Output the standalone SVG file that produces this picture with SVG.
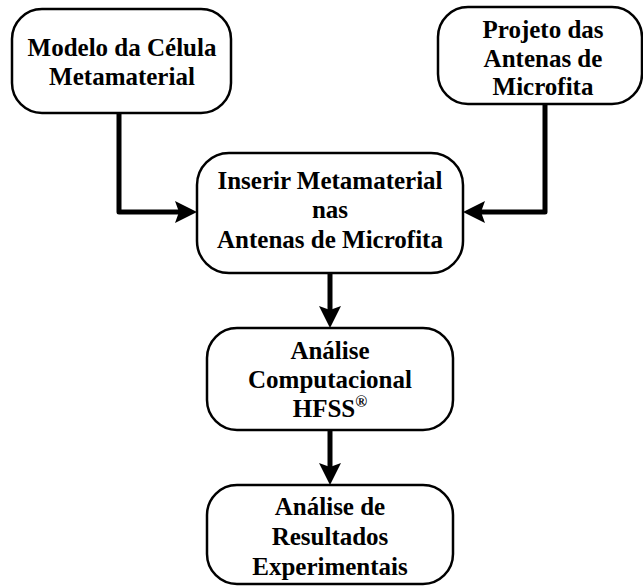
<svg xmlns="http://www.w3.org/2000/svg" width="643" height="586" viewBox="0 0 643 586">
<defs>
<style>
.box{fill:#fff;stroke:#000;stroke-width:2.5}
.t{font-family:"Liberation Serif","Times New Roman",serif;font-weight:bold;font-size:25px;fill:#000;text-anchor:middle}
.c{fill:none;stroke:#000;stroke-width:5;stroke-linejoin:round}
</style>
<marker id="ah" markerUnits="userSpaceOnUse" markerWidth="24" markerHeight="24" refX="4" refY="11" orient="auto" viewBox="0 0 24 24">
<path d="M0,0 L22,11 L0,22 L4,11 z" fill="#000"/>
</marker>
</defs>
<rect width="643" height="586" fill="#fff"/>
<g id="connectors">
<path class="c" d="M119,113 V212 H179" marker-end="url(#ah)"/>
<path class="c" d="M545,104 V212 H481" marker-end="url(#ah)"/>
<path class="c" d="M330,273 V310" marker-end="url(#ah)"/>
<path class="c" d="M330,430 V467" marker-end="url(#ah)"/>
</g>
<g id="n1">
<rect class="box" x="12" y="9" width="219" height="104" rx="30"/>
<text class="t" x="122" y="56">Modelo da Célula</text>
<text class="t" x="122" y="85">Metamaterial</text>
</g>
<g id="n2">
<rect class="box" x="438" y="7" width="204" height="97" rx="30"/>
<text class="t" x="543" y="38">Projeto das</text>
<text class="t" x="543" y="67">Antenas de</text>
<text class="t" x="543" y="95">Microfita</text>
</g>
<g id="n3">
<rect class="box" x="197" y="153" width="266" height="120" rx="32"/>
<text class="t" x="330" y="189">Inserir Metamaterial</text>
<text class="t" x="330" y="218">nas</text>
<text class="t" x="330" y="248">Antenas de Microfita</text>
</g>
<g id="n4">
<rect class="box" x="207" y="328" width="246" height="102" rx="30"/>
<text class="t" x="330" y="359">Análise</text>
<text class="t" x="330" y="388">Computacional</text>
<text class="t" x="330" y="417">HFSS<tspan font-size="16" dy="-10">®</tspan></text>
</g>
<g id="n5">
<rect class="box" x="207" y="485" width="246" height="99" rx="30"/>
<text class="t" x="330" y="515">Análise de</text>
<text class="t" x="330" y="545">Resultados</text>
<text class="t" x="330" y="575">Experimentais</text>
</g>
</svg>
